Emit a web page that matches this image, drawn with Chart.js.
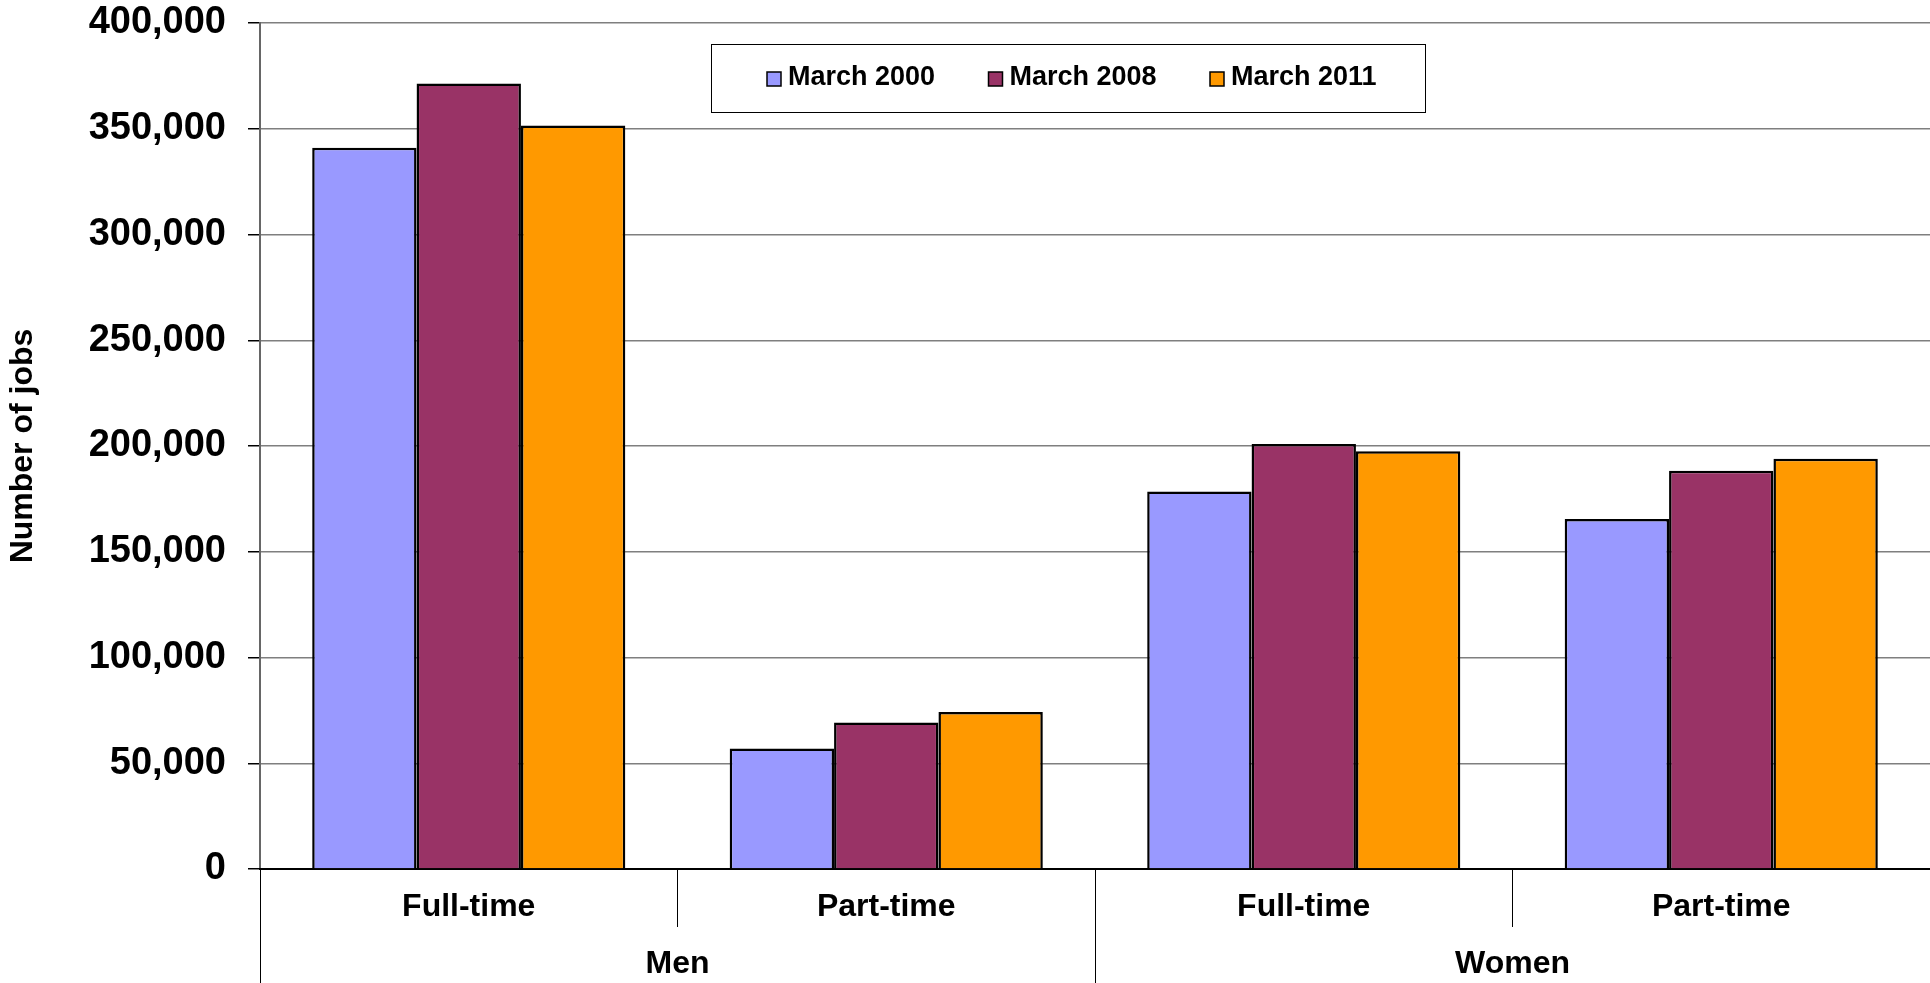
<!DOCTYPE html>
<html>
<head>
<meta charset="utf-8">
<script src="https://cdn.jsdelivr.net/npm/chart.js@4.4.1/dist/chart.umd.min.js"></script>
<style>
  html, body { margin: 0; padding: 0; background: #fff; }
  #wrap { width: 1930px; height: 983px; }
</style>
</head>
<body>
<div id="wrap"><canvas id="jobs" width="1930" height="983"></canvas></div>
<script>
// Data
const categories = ["Full-time", "Part-time", "Full-time", "Part-time"];
const groups = ["Men", "Women"];
const seriesNames = ["March 2000", "March 2008", "March 2011"];
const march2000 = [341000, 57000, 178500, 165500];
const march2008 = [371400, 69300, 201000, 188300];
const march2011 = [351500, 74200, 197500, 194000];
const yMax = 400000;
const yStep = 50000;

const palette = {
  lilac: "#9999ff",
  plum: "#993366",
  orange: "#ff9900",
  grid: "#7f7f7f",
  axis: "#666666",
  ink: "#000000",
};

Chart.defaults.font.family = "'Liberation Sans', Arial, sans-serif";
Chart.defaults.font.weight = "bold";
Chart.defaults.color = "#000";

// Excel style legend: boxed row of items sitting inside the plot
const boxedLegend = {
  id: "boxedLegend",
  afterDraw(chart, args, opts) {
    const ctx = chart.ctx;
    ctx.save();
    ctx.fillStyle = "#fff";
    ctx.fillRect(opts.x, opts.y, opts.w, opts.h);
    ctx.strokeStyle = "#000";
    ctx.lineWidth = 1;
    ctx.strokeRect(opts.x + 0.5, opts.y + 0.5, opts.w, opts.h);
    ctx.font = "bold " + opts.fontSize + "px 'Liberation Sans', Arial, sans-serif";
    ctx.textBaseline = "middle";
    ctx.textAlign = "left";
    chart.data.datasets.forEach((ds, i) => {
      const sx = opts.firstX + i * opts.step;
      const cy = opts.y + opts.h / 2;
      ctx.fillStyle = ds.backgroundColor;
      ctx.fillRect(sx, cy - opts.swatch / 2 + 1, opts.swatch, opts.swatch);
      ctx.lineWidth = 1.5;
      ctx.strokeStyle = "#000";
      ctx.strokeRect(sx, cy - opts.swatch / 2 + 1, opts.swatch, opts.swatch);
      ctx.fillStyle = "#000";
      ctx.fillText(ds.label, sx + opts.swatch + 7, cy);
    });
    ctx.restore();
  }
};

const mkSet = (label, data, color) => ({
  label: label,
  data: data,
  backgroundColor: color,
  borderColor: palette.ink,
  borderWidth: 2.5,
  xAxisID: "x",
});

new Chart(document.getElementById("jobs"), {
  type: "bar",
  data: {
    labels: categories,
    datasets: [
      mkSet(seriesNames[0], march2000, palette.lilac),
      mkSet(seriesNames[1], march2008, palette.plum),
      mkSet(seriesNames[2], march2011, palette.orange),
    ],
  },
  options: {
    responsive: false,
    devicePixelRatio: 1,
    animation: false,
    categoryPercentage: 0.75,
    barPercentage: 1.0,
    layout: { padding: { top: 23, right: -6, left: 0, bottom: 0 } },
    plugins: {
      legend: { display: false },
      tooltip: { enabled: false },
      boxedLegend: { x: 711, y: 44, w: 714, h: 68, firstX: 767, step: 221.5, swatch: 14, fontSize: 27 },
    },
    scales: {
      y: {
        min: 0,
        max: yMax,
        ticks: {
          stepSize: yStep,
          padding: 22,
          font: { size: 38, weight: "bold" },
          callback: (v) => v.toLocaleString("en-US"),
        },
        grid: { color: palette.grid, lineWidth: 1.5, tickLength: 12, tickColor: "#000" },
        border: { display: true, color: palette.axis, width: 2 },
        title: {
          display: true,
          text: "Number of jobs",
          font: { size: 32, weight: "bold" },
          padding: { top: 4, bottom: 0 },
        },
        afterFit: (s) => { s.width = 260; s.paddingTop = 0; s.paddingBottom = 0; },
      },
      x: {
        type: "category",
        position: "bottom",
        offset: true,
        grid: { offset: true, drawOnChartArea: false, tickLength: 58, color: "#000", lineWidth: 1 },
        border: { display: true, color: "#000", width: 2 },
        ticks: { padding: -39, maxRotation: 0, font: { size: 32, weight: "bold" } },
        afterFit: (s) => { s.height = 58; },
      },
      x2: {
        type: "category",
        position: "bottom",
        labels: groups,
        offset: true,
        grid: { offset: true, drawOnChartArea: false, tickLength: 56, color: "#000", lineWidth: 1 },
        border: { display: false },
        ticks: { padding: -38, maxRotation: 0, font: { size: 32, weight: "bold" } },
        afterFit: (s) => { s.height = 56; },
      },
    },
  },
  plugins: [boxedLegend],
});
</script>
</body>
</html>
